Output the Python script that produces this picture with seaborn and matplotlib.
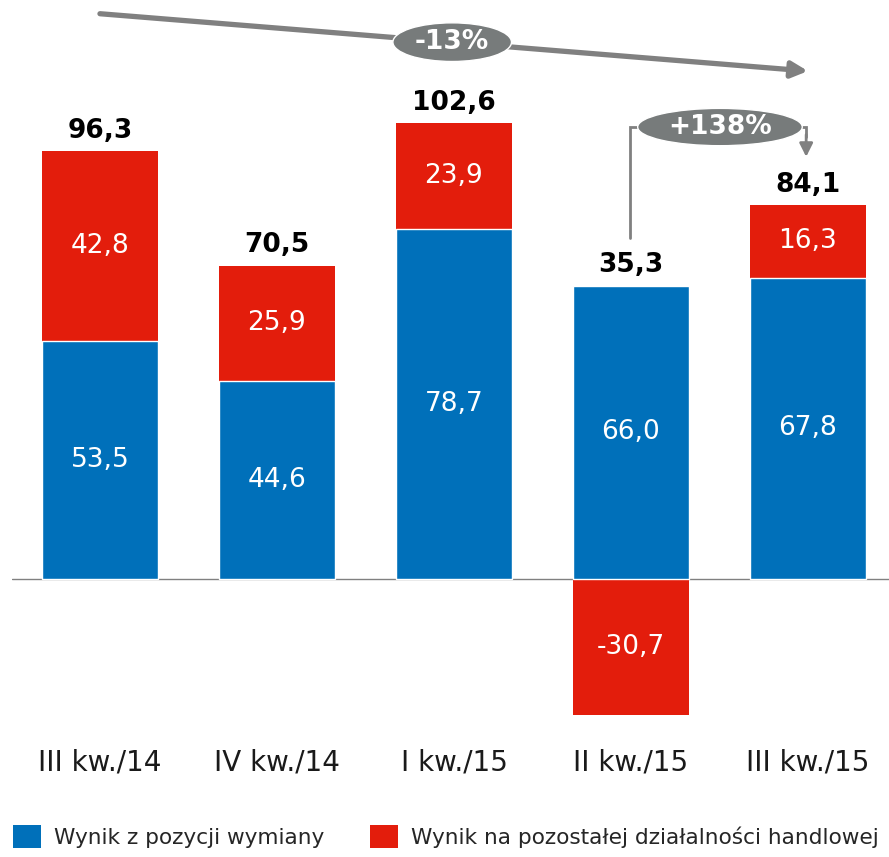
import matplotlib
matplotlib.use('Agg')
import matplotlib.pyplot as plt
import seaborn as sns
import pandas as pd
from matplotlib.patches import Ellipse, Patch

categories = ['III kw./14', 'IV kw./14', 'I kw./15', 'II kw./15', 'III kw./15']
fx_result = [53.5, 44.6, 78.7, 66.0, 67.8]
other_result = [42.8, 25.9, 23.9, -30.7, 16.3]
totals = [96.3, 70.5, 102.6, 35.3, 84.1]
series_names = ['Wynik z pozycji wymiany', 'Wynik na pozostałej działalności handlowej']
change_labels = ['-13%', '+138%']

BLUE = '#0070BA'
RED = '#E31D0C'
GRAY = '#808080'
ELL = '#777B7B'

sns.set_theme(style='white')
plt.rcParams['font.family'] = ['DejaVu Sans']


def fmt(v):
    return f'{v:.1f}'.replace('.', ',')


red_top = [f + o if o > 0 else o for f, o in zip(fx_result, other_result)]
df = pd.DataFrame({'cat': categories, 'fx': fx_result, 'red_top': red_top})

fig = plt.figure(figsize=(8.89, 8.57), dpi=100)
ax = fig.add_axes([12 / 889, 127 / 857, 877 / 889, 730 / 857])

ax.axhline(0, color=GRAY, lw=1.0, zorder=0)
sns.barplot(data=df, x='cat', y='red_top', color=RED, width=0.655, saturation=1,
            ax=ax, edgecolor='none', linewidth=0, zorder=2)
sns.barplot(data=df, x='cat', y='fx', color=BLUE, width=0.655, saturation=1,
            ax=ax, edgecolor='white', linewidth=1.0, zorder=3)

ppu = 4.444
ax.set_xlim(-0.497, 4.458)
ax.set_ylim(-(730 - 579) / ppu, 579 / ppu)
ax.set_xlabel('')
ax.set_ylabel('')
ax.set_yticks([])
ax.tick_params(axis='x', length=0, pad=13, labelsize=20, labelcolor='#1a1a1a')
sns.despine(ax=ax, left=True, bottom=True)

for i in range(len(categories)):
    f = fx_result[i]
    o = other_result[i]
    ax.text(i, f / 2, fmt(f), ha='center', va='center', color='white', fontsize=19, zorder=5)
    yc = f + o / 2 if o > 0 else o / 2
    ax.text(i, yc, fmt(o), ha='center', va='center', color='white', fontsize=19, zorder=5)
    top = max(f, f + o)
    ax.text(i, top + 4.6, fmt(totals[i]), ha='center', va='center', color='black',
            fontsize=19, fontweight='bold', zorder=5)

# Trend arrow -13%
ax.annotate('', xy=(4.0, 114.3), xytext=(0.0, 127.2),
            arrowprops=dict(arrowstyle='-|>', color=GRAY, lw=3.8, mutation_scale=24,
                            shrinkA=0, shrinkB=0), zorder=6)
ax.add_patch(Ellipse((1.99, 120.8), 0.67, 8.7, facecolor=ELL, edgecolor='white', lw=1.0, zorder=7))
ax.text(1.99, 120.8, change_labels[0], ha='center', va='center', color='white',
        fontsize=19, fontweight='bold', zorder=8)

# Bracket +138%
ax.plot([2.994, 2.994, 3.1], [76.7, 101.7, 101.7], color=GRAY, lw=2, zorder=6,
        solid_joinstyle='miter')
ax.plot([3.9, 3.99, 3.99], [101.7, 101.7, 99.5], color=GRAY, lw=2, zorder=6,
        solid_joinstyle='miter')
ax.annotate('', xy=(3.99, 95.0), xytext=(3.99, 100.0),
            arrowprops=dict(arrowstyle='-|>', color=GRAY, lw=2, mutation_scale=20,
                            shrinkA=0, shrinkB=0), zorder=6)
ax.add_patch(Ellipse((3.503, 101.7), 0.93, 8.4, facecolor=ELL, edgecolor='white', lw=1.0, zorder=7))
ax.text(3.503, 101.7, change_labels[1], ha='center', va='center', color='white',
        fontsize=19, fontweight='bold', zorder=8)

handles = [Patch(facecolor=BLUE, edgecolor='none'), Patch(facecolor=RED, edgecolor='none')]
fig.legend(handles, series_names, loc='lower left', bbox_to_anchor=(0.0, -0.005), ncol=2,
           frameon=False, fontsize=15.6, handlelength=1.3, handleheight=1.3,
           handletextpad=0.6, columnspacing=2.1, borderaxespad=0.2)

fig.savefig('out.png', dpi=100)
